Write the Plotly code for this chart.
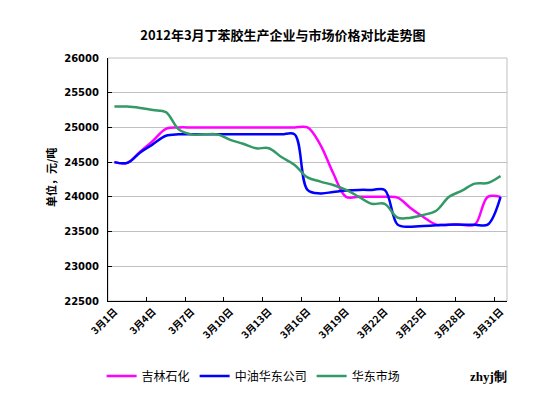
import plotly.graph_objects as go

days = list(range(1, 32))
tick_days = [1, 4, 7, 10, 13, 16, 19, 22, 25, 28, 31]
tick_labels = ["3月1日", "3月4日", "3月7日", "3月10日", "3月13日", "3月16日",
               "3月19日", "3月22日", "3月25日", "3月28日", "3月31日"]

jilin = [24500, 24490, 24650, 24810, 24980, 25000, 25000, 25000, 25000, 25000,
         25000, 25000, 25000, 25000, 25000, 25000, 24750, 24340, 24000, 24000,
         24000, 24000, 23990, 23840, 23710, 23600, 23600, 23600, 23600, 24000, 24000]
zhongyou = [24500, 24490, 24640, 24760, 24880, 24900, 24900, 24900, 24900, 24900,
            24900, 24900, 24900, 24900, 24900, 24100, 24050, 24070, 24090, 24100,
            24100, 24100, 23600, 23570, 23580, 23590, 23600, 23600, 23600, 23600, 24000]
huadong = [25300, 25300, 25280, 25250, 25220, 24970, 24900, 24900, 24900, 24820,
           24765, 24700, 24700, 24570, 24460, 24280, 24220, 24170, 24100, 24000,
           23900, 23900, 23700, 23700, 23740, 23800, 24000, 24090, 24190, 24200, 24300]

series = [("吉林石化", jilin, "#FF00FF"),
          ("中油华东公司", zhongyou, "#0000FF"),
          ("华东市场", huadong, "#339966")]

fig = go.Figure()
for name, vals, col in series:
    fig.add_trace(go.Scatter(x=days, y=vals, name=name, mode="lines",
                             line=dict(color=col, width=2.5, shape="spline", smoothing=1.0)))

cjk = "Noto Sans CJK SC"
fig.update_layout(
    width=560, height=395,
    margin=dict(l=100, r=61, t=50, b=96),
    paper_bgcolor="white", plot_bgcolor="white",
    title=dict(text="<b>2012年3月丁苯胶生产企业与市场价格对比走势图</b>",
               font=dict(family=cjk, size=13, color="black"),
               x=0.491, xanchor="center", y=1 - 27 / 395, yanchor="middle", yref="container"),
    showlegend=True,
    legend=dict(orientation="h", x=-0.016, xanchor="left", y=-0.309, yanchor="middle",
                font=dict(family=cjk, size=12, color="black"), bgcolor="rgba(0,0,0,0)",
                itemwidth=30, tracegroupgap=0),
    xaxis=dict(range=[0.5, 31.5], tickmode="array", tickvals=tick_days, ticktext=tick_labels,
               tickangle=-45, ticks="", showgrid=False, zeroline=False,
               showline=True, linecolor="black", linewidth=1,
               tickfont=dict(family=cjk, size=10, color="black", weight="bold"),
               minor=dict(tickmode="array", tickvals=[3.5, 6.5, 9.5, 12.5, 15.5, 18.5, 21.5, 24.5, 27.5, 30.5],
                          ticks="inside", ticklen=4, tickcolor="black", showgrid=False)),
    yaxis=dict(range=[22500, 26000], dtick=500, tick0=22500, tickformat="d",
               ticks="inside", ticklen=4,
               tickcolor="black", showgrid=True, gridcolor="#C0C0C0", gridwidth=1,
               zeroline=False, showline=True, linecolor="black", linewidth=1,
               tickfont=dict(family="DejaVu Sans", size=10, color="black", weight="bold"),
               ticklabelstandoff=6),
    shapes=[dict(type="rect", xref="paper", yref="paper", x0=0, x1=1, y0=0, y1=1,
                 line=dict(color="#C0C0C0", width=1), layer="below")],
    annotations=[
        dict(text="<b>单位，元/吨</b>", textangle=-90, xref="paper", yref="paper",
             x=(33 - 100) / 399, y=0.506, showarrow=False,
             font=dict(family=cjk, size=11, color="black")),
        dict(text="<b>zhyj制</b>", xref="paper", yref="paper",
             x=(480 - 100) / 399, y=-0.309, showarrow=False, xanchor="center", yanchor="middle",
             font=dict(family="Liberation Serif", size=13, color="black")),
    ],
)

fig.write_html("out.html")
